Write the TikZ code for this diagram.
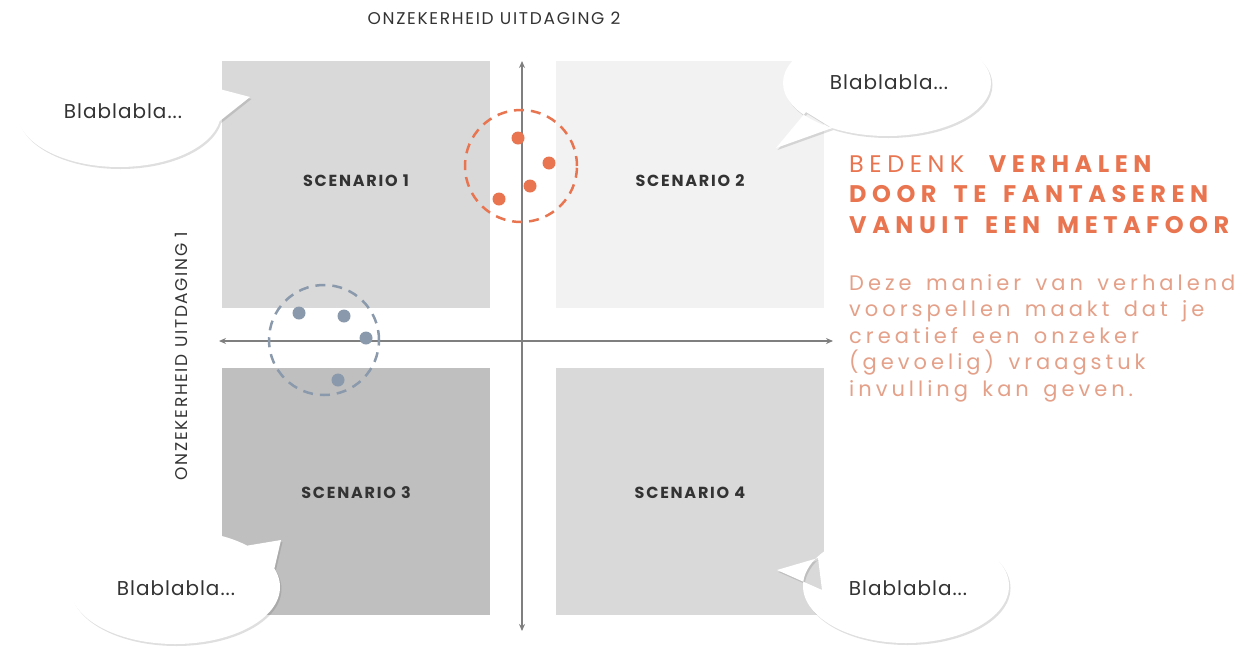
\documentclass[tikz,border=0pt]{standalone}
\usepackage{fontspec}
\setmainfont{Poppins}
\newfontfamily\titlefont[LetterSpace=23,WordSpace=1.6]{Poppins}
\newfontfamily\bodyfont[LetterSpace=19,WordSpace=1.5]{Poppins}
\newfontfamily\scenfont[LetterSpace=11]{Poppins}
\newfontfamily\labfont[LetterSpace=5]{Poppins}
\newfontfamily\axfont[LetterSpace=10]{Poppins}
\usetikzlibrary{shadows,arrows.meta,shapes.geometric}
\definecolor{sqA}{HTML}{D9D9D9}
\definecolor{sqB}{HTML}{F2F2F2}
\definecolor{sqC}{HTML}{BFBFBF}
\definecolor{axisgrey}{HTML}{7F7F7F}
\definecolor{orangeA}{HTML}{E97450}
\definecolor{orangeB}{HTML}{E4A088}
\definecolor{bluegrey}{HTML}{8A99AB}
\definecolor{txt}{HTML}{333333}
\tikzset{
  quad/.style={draw=none,minimum width=268,minimum height=247,inner sep=0},
  scen/.style={font=\fontsize{16}{18}\scenfont\bfseries,text=txt},
  axisline/.style={draw=axisgrey,line width=1.6pt,{Stealth[length=7pt,width=6pt]}-{Stealth[length=7pt,width=6pt]}},
  dashcirc/.style={circle,draw,line width=2.5pt,dash pattern=on 10pt off 7pt,inner sep=0},
  dot/.style={circle,inner sep=0,minimum size=13},
  bubble/.style={fill=white,drop shadow={shadow xshift=1.5pt,shadow yshift=-2pt,opacity=0.18,fill=black!70}},
  bubtext/.style={font=\fontsize{20}{22}\labfont,text=txt},
  axlabel/.style={font=\fontsize{17}{19}\axfont,text=txt}
}
\begin{document}
\begin{tikzpicture}[x=1pt,y=-1pt]
\useasboundingbox (0,0) rectangle (1244,646);
% quadrants
\node[quad,fill=sqA,anchor=north west] (q1) at (222,61) {};
\node[quad,fill=sqB,anchor=north west] (q2) at (556,61) {};
\node[quad,fill=sqC,anchor=north west] (q3) at (222,368) {};
\node[quad,fill=sqA,anchor=north west] (q4) at (556,368) {};
\node[scen] (s1) at (356,181) {SCENARIO 1};
\node[scen] (s2) at (690,181) {SCENARIO 2};
\node[scen] (s3) at (356,493) {SCENARIO 3};
\node[scen] (s4) at (690,493) {SCENARIO 4};
% axes
\coordinate (vtop) at (522,61);
\coordinate (vbot) at (522,631);
\coordinate (hl) at (219,341);
\coordinate (hr) at (833,341);
\draw[axisline] (vtop) -- (vbot);
\draw[axisline] (hl) -- (hr);
% axis labels
\node[axlabel] (ax2) at (494,18) {ONZEKERHEID UITDAGING 2};
\node[axlabel,rotate=90] (ax1) at (181,356) {ONZEKERHEID UITDAGING 1};
% orange cluster
\node[dashcirc,draw=orangeA,minimum size=112] (oc) at (521,166) {};
\node[dot,fill=orangeA] (o1) at (518,138) {};
\node[dot,fill=orangeA] (o2) at (549,163) {};
\node[dot,fill=orangeA] (o3) at (530,186) {};
\node[dot,fill=orangeA] (o4) at (499,199) {};
% blue cluster
\node[dashcirc,draw=bluegrey,minimum size=110] (bc) at (324,340) {};
\node[dot,fill=bluegrey] (b1) at (299,313) {};
\node[dot,fill=bluegrey] (b2) at (344,316) {};
\node[dot,fill=bluegrey] (b3) at (366,338) {};
\node[dot,fill=bluegrey] (b4) at (338,380) {};
% bubbles
\path[bubble] (119,112) ellipse (102 and 55) (208,86) -- (250,97) -- (216,124) -- cycle;
\node[bubtext] (t1) at (123,111) {Blablabla...};
\path[bubble] (887,83) ellipse (104 and 53) (806,112) -- (776,148) -- (832,128) -- cycle;
\node[bubtext] (t2) at (889,82) {Blablabla...};
\path[bubble] (175,587) ellipse (105 and 57) (245,546) -- (281,540) -- (271,583) -- cycle;
\node[bubtext] (t3) at (176,588) {Blablabla...};
\path[bubble] (906,586) ellipse (103 and 57) (818,558) -- (777,570) -- (822,590) -- cycle;
\node[bubtext] (t4) at (908,588) {Blablabla...};
% right text
\node[anchor=north west,align=left,inner sep=0,text=orangeA,font=\fontsize{24}{30.5}\titlefont] (title) at (849,155)
 {BEDENK \textbf{VERHALEN}\\\textbf{DOOR TE FANTASEREN}\\\textbf{VANUIT EEN METAFOOR}};
\node[anchor=north west,align=left,inner sep=0,text=orangeB,font=\fontsize{21}{26.5}\bodyfont] (body) at (849,274)
 {Deze manier van verhalend\\voorspellen maakt dat je\\creatief een onzeker\\(gevoelig) vraagstuk\\invulling kan geven.};
\end{tikzpicture}
\end{document}
